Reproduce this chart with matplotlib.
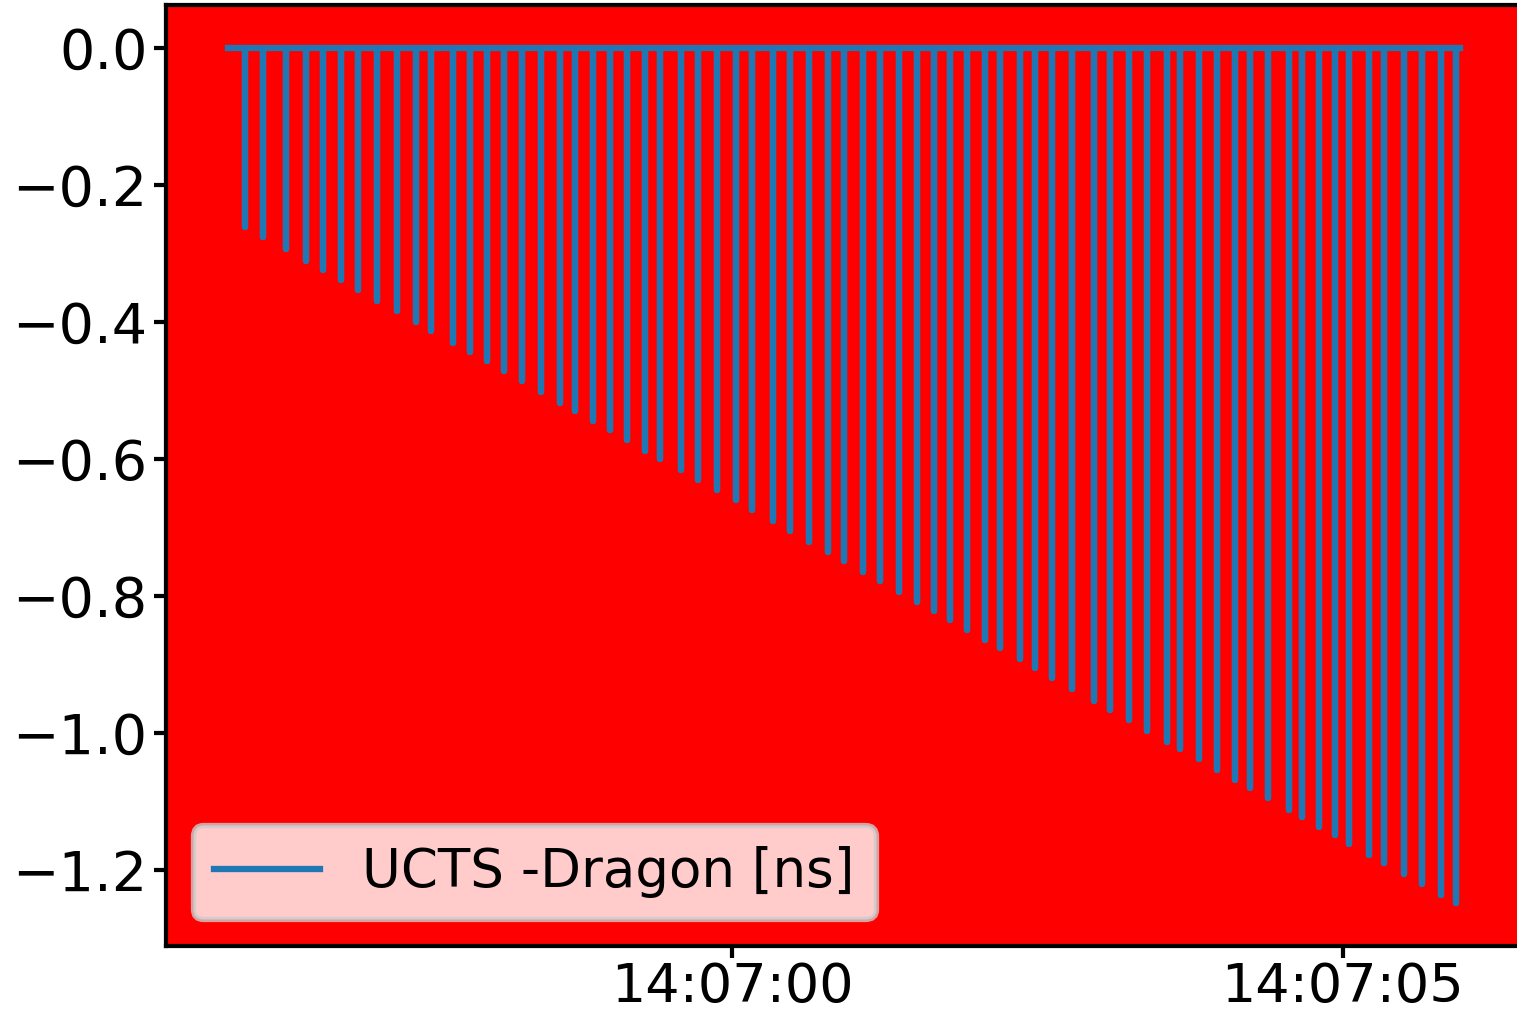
"""UCTS minus Dragon timestamp difference over a few seconds of a run."""

import matplotlib

matplotlib.use("Agg")
import matplotlib.dates as mdates
import matplotlib.pyplot as plt
import numpy as np
import pandas as pd

DPI = 378
BASE_TIME = pd.Timestamp("2019-11-07 14:06:55")

# seconds after 14:06:55 where the trace starts and ends at zero
TRACE_START = 0.871
TRACE_END = 10.961

# spike times (seconds after 14:06:55) and their depths (ns)
SPIKE_TIMES = [
    1.010, 1.157, 1.345, 1.509, 1.648, 1.795, 1.935, 2.090, 2.254, 2.409,
    2.532, 2.712, 2.851, 2.990, 3.129, 3.277, 3.432, 3.588, 3.718, 3.858,
    3.997, 4.136, 4.291, 4.414, 4.578, 4.725, 4.880, 5.028, 5.167, 5.331,
    5.470, 5.633, 5.781, 5.920, 6.075, 6.214, 6.370, 6.517, 6.656, 6.787,
    6.926, 7.074, 7.196, 7.360, 7.483, 7.622, 7.786, 7.965, 8.097, 8.252,
    8.399, 8.563, 8.669, 8.825, 8.972, 9.119, 9.242, 9.390, 9.561, 9.668,
    9.807, 9.938, 10.052, 10.216, 10.339, 10.502, 10.650, 10.805, 10.928,
]
SPIKE_DEPTHS = [
    -0.261, -0.276, -0.294, -0.311, -0.325, -0.339, -0.353, -0.369, -0.385, -0.400,
    -0.413, -0.431, -0.444, -0.458, -0.472, -0.487, -0.502, -0.518, -0.531, -0.545,
    -0.558, -0.572, -0.588, -0.600, -0.616, -0.631, -0.646, -0.661, -0.675, -0.691,
    -0.705, -0.721, -0.736, -0.750, -0.765, -0.779, -0.795, -0.809, -0.823, -0.836,
    -0.850, -0.865, -0.877, -0.893, -0.906, -0.920, -0.936, -0.954, -0.967, -0.982,
    -0.997, -1.013, -1.024, -1.039, -1.054, -1.069, -1.081, -1.096, -1.113, -1.123,
    -1.137, -1.150, -1.162, -1.178, -1.190, -1.206, -1.221, -1.237, -1.249,
]


def build_trace():
    secs = [TRACE_START]
    vals = [0.0]
    for t, d in zip(SPIKE_TIMES, SPIKE_DEPTHS):
        secs += [t, t, t]
        vals += [0.0, d, 0.0]
    secs.append(TRACE_END)
    vals.append(0.0)
    times = BASE_TIME + pd.to_timedelta(np.array(secs), unit="s")
    return times.to_pydatetime(), np.array(vals)


def main():
    times, vals = build_trace()

    fig = plt.figure(figsize=(1517 / DPI, 1012 / DPI), dpi=DPI)
    ax = fig.add_axes([166 / 1517, 66 / 1012, 1356 / 1517, 941 / 1012])
    ax.set_facecolor("red")

    ax.plot(times, vals, color="#1f77b4", linewidth=1.2, label="UCTS -Dragon [ns]")

    ax.xaxis.set_major_locator(mdates.SecondLocator(bysecond=range(0, 60, 5)))
    ax.xaxis.set_major_formatter(mdates.DateFormatter("%H:%M:%S"))
    ax.tick_params(axis="x", labelsize=10.3, length=2.2, pad=0.6)
    ax.tick_params(axis="y", labelsize=10.6, length=2.2, pad=1.3)
    ax.legend(loc="lower left", fontsize=10.1)

    fig.savefig("out.png", dpi=DPI)
    plt.close(fig)


if __name__ == "__main__":
    main()
